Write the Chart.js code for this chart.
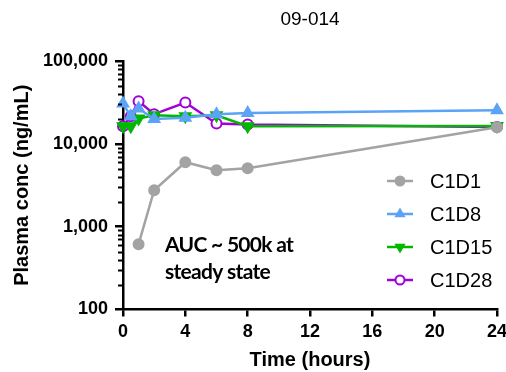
<!DOCTYPE html>
<html>
<head>
<meta charset="utf-8">
<script src="https://cdn.jsdelivr.net/npm/chart.js@4"></script>
<style>
  html, body { margin: 0; padding: 0; background: #fff; }
  #wrap { width: 506px; height: 372px; }
</style>
</head>
<body>
<div id="wrap"><canvas id="pk" width="506" height="372"></canvas></div>
<script>
// ── Data ──
const HOURS_FULL = [0, 0.5, 1, 2, 4, 6, 8, 24];
const HOURS_D1   = [1, 2, 4, 6, 8, 24];
const C1D1  = [615, 2750, 6000, 4800, 5080, 15850];
const C1D8  = [30600, 21500, 26700, 19950, 20700, 22800, 23600, 25400];
const C1D15 = [16300, 16300, 20200, 22100, 21500, 22100, 16300, 16400];
const C1D28 = [16300, 21500, 32700, 22800, 31500, 17600, 17100, 16000];
const X_TICKS = [0, 4, 8, 12, 16, 20, 24];
const Y_TICKS = [100, 1000, 10000, 100000];
const TITLE = '09-014';
const NOTE = ['AUC ~ 500k at', 'steady state'];

const pts = (xs, ys) => xs.map((x, i) => ({ x, y: ys[i] }));
const FONT = '"Liberation Sans", Arial, sans-serif';

const series = [
  { label: 'C1D1',  data: pts(HOURS_D1, C1D1),    color: '#a3a3a3', style: 'circle',   rot: 0,   fill: true },
  { label: 'C1D8',  data: pts(HOURS_FULL, C1D8),  color: '#5ba3f5', style: 'triangle', rot: 0,   fill: true },
  { label: 'C1D15', data: pts(HOURS_FULL, C1D15), color: '#00b800', style: 'triangle', rot: 180, fill: true },
  { label: 'C1D28', data: pts(HOURS_FULL, C1D28), color: '#a100d8', style: 'circle',   rot: 0,   fill: false },
];

// title over plot area, minor log ticks on y, custom legend, annotation text
const extras = {
  id: 'extras',
  afterDraw(chart) {
    const { ctx, chartArea: a, scales: { y } } = chart;
    ctx.save();
    ctx.fillStyle = '#000';
    ctx.font = '19px ' + FONT;
    ctx.textAlign = 'center';
    ctx.textBaseline = 'middle';
    ctx.fillText(TITLE, (a.left + a.right) / 2, 20);

    // minor ticks 2..9 per decade
    ctx.strokeStyle = '#000';
    ctx.lineWidth = 2;
    for (let d = 100; d < 100000; d *= 10) {
      for (let k = 2; k <= 9; k++) {
        const py = Math.round(y.getPixelForValue(k * d)) + 0.5;
        ctx.beginPath();
        ctx.moveTo(a.left - 1, py);
        ctx.lineTo(a.left - 5, py);
        ctx.stroke();
      }
    }
    // legend
    const lx = a.right - 110, ty = 181, gap = 33;
    chart.data.datasets.forEach((ds, i) => {
      const yy = ty + i * gap;
      ctx.strokeStyle = ds.borderColor;
      ctx.lineWidth = 2.5;
      ctx.beginPath();
      ctx.moveTo(lx, yy);
      ctx.lineTo(lx + 26, yy);
      ctx.stroke();
      ctx.fillStyle = ds.pointBackgroundColor;
      ctx.lineWidth = 2;
      Chart.helpers.drawPoint(ctx, {
        pointStyle: ds.pointStyle, rotation: ds.pointRotation,
        radius: 4.5, borderWidth: 2
      }, lx + 13, yy);
      ctx.fillStyle = '#000';
      ctx.font = '20px ' + FONT;
      ctx.textAlign = 'left';
      ctx.fillText(ds.label, lx + 43, yy + 1);
    });
    // annotation
    ctx.fillStyle = '#000';
    ctx.font = 'bold 21px Lato, sans-serif';
    ctx.letterSpacing = '-0.7px';
    ctx.textAlign = 'left';
    NOTE.forEach((t, i) => ctx.fillText(t, a.left + 42, 245 + i * 27));
    ctx.restore();
  }
};

new Chart(document.getElementById('pk'), {
  type: 'line',
  data: {
    datasets: series.map(s => ({
      label: s.label,
      data: s.data,
      borderColor: s.color,
      backgroundColor: s.color,
      pointBackgroundColor: s.fill ? s.color : '#fff',
      pointBorderColor: s.color,
      pointStyle: s.style,
      pointRotation: s.rot,
      pointRadius: s.style === 'triangle' ? 6 : 5,
      pointBorderWidth: 2,
      borderWidth: 2.5,
      tension: 0,
      clip: false,
    }))
  },
  options: {
    responsive: false, animation: false,
    layout: { padding: { left: 0, right: 9, top: 61, bottom: 0 } },
    plugins: {
      legend: { display: false },
      tooltip: { enabled: false },
      title: { display: false }
    },
    scales: {
      x: {
        type: 'linear', min: 0, max: 24,
        afterBuildTicks: s => { s.ticks = X_TICKS.map(v => ({ value: v })); },
        afterFit: s => { s.height = 62.5; s.paddingLeft = 0; s.paddingRight = 0; },
        grid: { drawOnChartArea: false, drawTicks: true, tickLength: 7, color: '#000', lineWidth: 2.5 },
        border: { display: true, color: '#000', width: 2.5 },
        ticks: { color: '#000', padding: 5, font: { family: FONT, size: 18, weight: 'bold' } },
        title: { display: true, text: 'Time (hours)', color: '#000', padding: { top: 0, bottom: 0 },
                 font: { family: FONT, size: 20, weight: 'bold' } }
      },
      y: {
        type: 'logarithmic', min: 100, max: 100000,
        afterBuildTicks: s => { s.ticks = Y_TICKS.map(v => ({ value: v })); },
        afterFit: s => { s.width = 123; s.paddingTop = 0; s.paddingBottom = 0; },
        grid: { drawOnChartArea: false, drawTicks: true, tickLength: 8, color: '#000', lineWidth: 2.5 },
        border: { display: true, color: '#000', width: 2.5 },
        ticks: { color: '#000', padding: 7, font: { family: FONT, size: 18, weight: 'bold' },
                 callback: v => Number(v).toLocaleString('en-US') },
        title: { display: true, text: 'Plasma conc (ng/mL)', color: '#000', padding: { top: 10, bottom: 0 },
                 font: { family: FONT, size: 20, weight: 'bold' } }
      }
    }
  },
  plugins: [extras]
});
</script>
</body>
</html>
